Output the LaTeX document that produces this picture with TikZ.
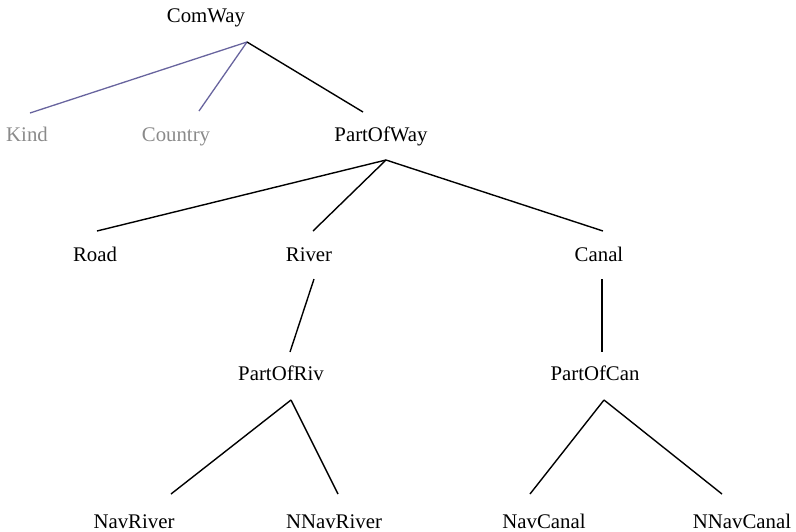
\documentclass[tikz,border=0pt]{standalone}
\usepackage{fontspec}
\setmainfont{Liberation Serif}
\definecolor{slotblue}{RGB}{104,100,158}
\definecolor{slotgray}{RGB}{138,138,138}
\tikzset{
  lbl/.style={anchor=base,inner sep=0pt,font=\fontsize{20.8}{24}\selectfont},
  slot/.style={lbl,text=slotgray},
  link/.style={line width=1.4pt,black},
  slotlink/.style={line width=1.3pt,slotblue}
}
\begin{document}
\begin{tikzpicture}[x=1pt,y=-1pt]
  \useasboundingbox (0,0) rectangle (796,531);
  \node[lbl] (comway) at (206,22) {ComWay};
  \node[slot] (kind) at (27,141) {Kind};
  \node[slot] (country) at (176,141) {Country};
  \node[lbl] (partofway) at (381,141) {PartOfWay};
  \node[lbl] (road) at (95,261) {Road};
  \node[lbl] (river) at (309,261) {River};
  \node[lbl] (canal) at (599,261) {Canal};
  \node[lbl] (partofriv) at (281,380) {PartOfRiv};
  \node[lbl] (partofcan) at (595,380) {PartOfCan};
  \node[lbl] (navriver) at (134,528) {NavRiver};
  \node[lbl] (nnavriver) at (334,528) {NNavRiver};
  \node[lbl] (navcanal) at (544,528) {NavCanal};
  \node[lbl] (nnavcanal) at (742,528) {NNavCanal};
  % attachment points above and below the labels
  \coordinate (comway-b) at (247,42);
  \coordinate (kind-t) at (30,113);
  \coordinate (country-t) at (199,111);
  \coordinate (partofway-t) at (363,112);
  \coordinate (partofway-b) at (386,160);
  \coordinate (road-t) at (97,231);
  \coordinate (river-t) at (313,231);
  \coordinate (river-b) at (314,279);
  \coordinate (canal-t) at (603,231);
  \coordinate (canal-b) at (602,279);
  \coordinate (partofriv-t) at (290,352);
  \coordinate (partofriv-b) at (291,400);
  \coordinate (partofcan-t) at (602,352);
  \coordinate (partofcan-b) at (604,400);
  \coordinate (navriver-t) at (171,494);
  \coordinate (nnavriver-t) at (338,494);
  \coordinate (navcanal-t) at (530,494);
  \coordinate (nnavcanal-t) at (722,494);
  \draw[slotlink] (comway-b) -- (kind-t);
  \draw[slotlink] (comway-b) -- (country-t);
  \draw[link] (comway-b) -- (partofway-t);
  \draw[link] (partofway-b) -- (road-t);
  \draw[link] (partofway-b) -- (river-t);
  \draw[link] (partofway-b) -- (canal-t);
  \draw[link] (river-b) -- (partofriv-t);
  \draw[link] (canal-b) -- (partofcan-t);
  \draw[link] (partofriv-b) -- (navriver-t);
  \draw[link] (partofriv-b) -- (nnavriver-t);
  \draw[link] (partofcan-b) -- (navcanal-t);
  \draw[link] (partofcan-b) -- (nnavcanal-t);
\end{tikzpicture}
\end{document}
